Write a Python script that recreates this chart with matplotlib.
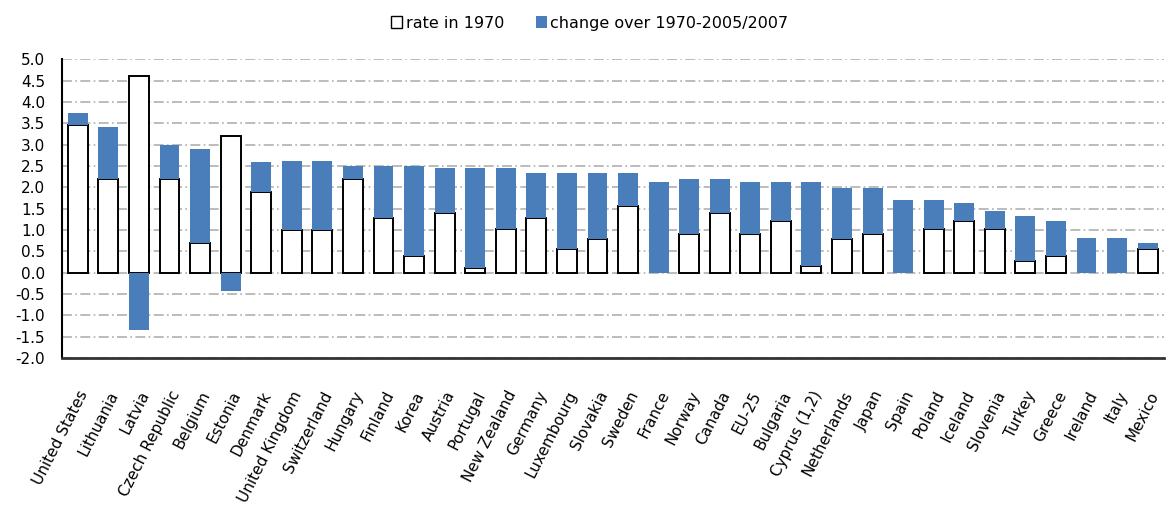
import numpy as np
import matplotlib
matplotlib.use("Agg")
import matplotlib.pyplot as plt
from matplotlib.patches import Patch

countries = ["United States", "Lithuania", "Latvia", "Czech Republic", "Belgium", "Estonia",
             "Denmark", "United Kingdom", "Switzerland", "Hungary", "Finland", "Korea",
             "Austria", "Portugal", "New Zealand", "Germany", "Luxembourg", "Slovakia",
             "Sweden", "France", "Norway", "Canada", "EU-25", "Bulgaria", "Cyprus (1,2)",
             "Netherlands", "Japan", "Spain", "Poland", "Iceland", "Slovenia", "Turkey",
             "Greece", "Ireland", "Italy", "Mexico"]

rate_1970 = [3.45, 2.2, 4.6, 2.2, 0.7, 3.2,
             1.9, 1.0, 1.0, 2.2, 1.27, 0.4,
             1.4, 0.1, 1.03, 1.27, 0.55, 0.78,
             1.57, 0.0, 0.9, 1.4, 0.9, 1.2, 0.15,
             0.78, 0.9, 0.0, 1.03, 1.2, 1.03, 0.28,
             0.4, 0.0, 0.0, 0.55]

change = [0.3, 1.2, -1.35, 0.8, 2.2, -0.42,
          0.7, 1.62, 1.62, 0.3, 1.23, 2.1,
          1.05, 2.35, 1.42, 1.07, 1.78, 1.55,
          0.77, 2.13, 1.3, 0.8, 1.22, 0.92, 1.97,
          1.2, 1.08, 1.7, 0.67, 0.44, 0.42, 1.05,
          0.82, 0.82, 0.82, 0.15]

blue = "#4a7ebb"

fig = plt.figure(figsize=(11.68, 5.15), dpi=100)
ax = fig.add_axes([0.053, 0.305, 0.944, 0.58])

x = np.arange(len(countries))
rate = np.array(rate_1970)
chg = np.array(change)
bottoms = np.where(chg >= 0, rate, 0.0)

# only draw the white 1970 bars where there is a value
has_rate = rate > 0
ax.bar(x[has_rate], rate[has_rate], width=0.65, color="white", edgecolor="black",
       linewidth=1.4, zorder=3)
ax.bar(x, chg, width=0.65, bottom=bottoms, color=blue, edgecolor="none", zorder=4)

ax.set_ylim(-2.0, 5.0)
ax.set_xlim(-0.52, len(countries) - 0.45)
yt = np.arange(-2.0, 5.01, 0.5)
ax.set_yticks(yt)
ax.set_yticklabels(["%.1f" % v for v in yt], fontsize=11)
ax.yaxis.grid(True, color="#b0b0b0", linestyle=(0, (6, 2, 1, 2)), linewidth=1.2, zorder=0)
ax.set_axisbelow(True)
ax.tick_params(axis="y", length=0, pad=12)
ax.tick_params(axis="x", length=0, pad=22)

ax.set_xticks(x)
ax.set_xticklabels(countries, rotation=63, ha="right", rotation_mode="anchor", fontsize=11)

for s in ["top", "right"]:
    ax.spines[s].set_visible(False)
ax.spines["left"].set_linewidth(1.5)
ax.spines["bottom"].set_linewidth(2.0)
ax.spines["bottom"].set_color("#333333")

handles = [Patch(facecolor="white", edgecolor="black", linewidth=1.0, label="rate in 1970"),
           Patch(facecolor=blue, edgecolor="none", label="change over 1970-2005/2007")]
fig.legend(handles=handles, loc="center", bbox_to_anchor=(0.505, 0.955), ncol=2, frameon=False,
           fontsize=11.5, handlelength=0.7, handleheight=0.7, handletextpad=0.2, columnspacing=2.0)

fig.savefig("out.png", dpi=100)
